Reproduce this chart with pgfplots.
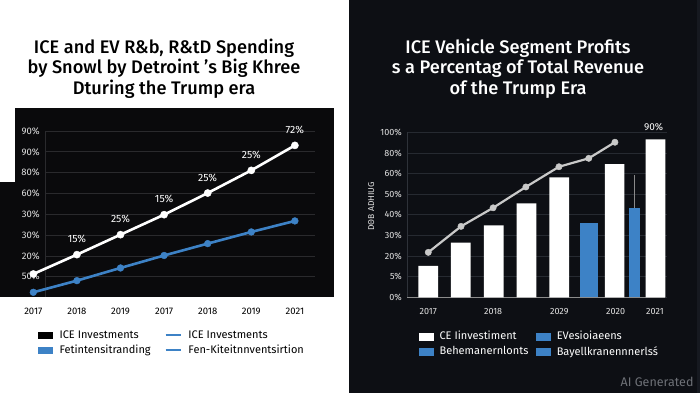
\documentclass[border=0pt]{standalone}
\usepackage{pgfplots}
\pgfplotsset{compat=1.18}
\usepackage{fontspec}
\setmainfont{Fira Sans}
\newfontfamily\titlefont{Fira Sans Medium}
\definecolor{panel}{HTML}{0D0F14}
\definecolor{lblack}{HTML}{0A0A0C}
\definecolor{gridl}{HTML}{2A2A2D}
\definecolor{gridr}{HTML}{262A31}
\definecolor{eblue}{HTML}{3D82C6}
\definecolor{lgray}{HTML}{C9C9C9}
\definecolor{tickw}{HTML}{E2E2E2}
\definecolor{edgec}{HTML}{161920}
\definecolor{aigray}{HTML}{6E7177}
\definecolor{vaxis}{HTML}{2E3239}
\definecolor{baxis}{HTML}{8C8C8C}
\definecolor{errc}{HTML}{8A8A8A}
\begin{document}
\begin{tikzpicture}
\useasboundingbox (0pt,0pt) rectangle (700pt,393pt);
\fill[white] (0pt,0pt) rectangle (700pt,393pt);
\fill[panel] (349pt,0pt) rectangle (700pt,393pt);
\fill[edgec] (697pt,0pt) rectangle (700pt,393pt);
\fill[lblack] (15pt,96pt) rectangle (334pt,285pt);
\fill[lblack] (0pt,96pt) rectangle (15pt,211pt);
\node[align=center, font=\titlefont\fontsize{18.2}{20.5}\selectfont, text=black] at (164pt,324.5pt)
  {ICE and EV R\&b, R\&tD Spending\\by Snowl by Detroint ’s Big Khree\\Dturing the Trump era};
\node[align=center, font=\titlefont\fontsize{18.2}{20.5}\selectfont, text=white] at (518pt,324.5pt)
  {ICE Vehicle Segment Profits\\s a Percentag of Total Revenue\\of the Trump Era};
\node[anchor=east, font=\fontsize{12.5}{14}\selectfont, text=aigray] at (697pt,11pt) {AI Generated};

% ---------------- left chart
\begin{axis}[
  at={(15pt,96pt)}, anchor=south west, scale only axis,
  width=319pt, height=189pt,
  xmin=-0.42, xmax=6.897, ymin=-0.976, ymax=8.107,
  axis line style={draw=none}, major tick length=0pt,
  clip=false,
  xtick={0,...,6}, xticklabels={2017,2018,2019,2017,2018,2019,2021},
  ytick={0,...,7}, yticklabels={50\%,20\%,30\%,30\%,60\%,80\%,90\%,90\%},
  xticklabel style={font=\fontsize{9.5}{11}\selectfont, text=black, inner sep=0pt, anchor=north, yshift=-11pt},
  yticklabel style={font=\fontsize{9.5}{11}\selectfont, text=tickw, inner sep=0pt, anchor=east, xshift=25pt},
  legend columns=2,
  legend style={at={(0.072,-0.166)}, anchor=north west, draw=none, fill=none,
    font=\fontsize{11}{13}\selectfont, text=black, inner sep=0pt,
    /tikz/every odd column/.append style={column sep=5pt},
    /tikz/every even column/.append style={column sep=12pt}, row sep=1pt},
  legend cell align=left,
]
\pgfplotsinvokeforeach{0,...,7}{\draw[gridl, line width=0.7pt] (axis cs:0.268,#1) -- (axis cs:6.46,#1);}
\draw[gridl, line width=0.7pt] (axis cs:0.268,-0.976) -- (axis cs:0.268,7);
\addplot[eblue, line width=2.6pt, mark=*, mark size=3.4pt, mark options={fill=eblue, draw=eblue, line width=0.4pt}, forget plot]
  coordinates {(0,-0.75) (1,-0.19) (2,0.42) (3,1.02) (4,1.59) (5,2.15) (6,2.68)};
\addplot[white, line width=2.6pt, mark=*, mark size=3.6pt, mark options={fill=white, draw=white, line width=0.4pt},
  nodes near coords, point meta=explicit symbolic,
  every node near coord/.style={font=\fontsize{10.5}{12}\selectfont, text=white, anchor=base, inner sep=0pt, yshift=12pt},
  forget plot]
  coordinates {(0,0.13)[{}] (1,1.06)[15\%] (2,2.02)[25\%] (3,2.98)[15\%] (4,4.02)[25\%] (5,5.11)[25\%] (6,6.31)[72\%]};
\addlegendimage{legend image code/.code={\fill[black] (0pt,-3pt) rectangle (14pt,3pt);}}
\addlegendentry{ICE Investments}
\addlegendimage{legend image code/.code={\draw[eblue, line width=1.8pt] (0pt,0pt) -- (15pt,0pt);}}
\addlegendentry{ICE Investments}
\addlegendimage{legend image code/.code={\fill[eblue] (0pt,-3pt) rectangle (14pt,3pt);}}
\addlegendentry{Fetintensitranding}
\addlegendimage{legend image code/.code={\draw[eblue, line width=1.8pt] (0pt,0pt) -- (15pt,0pt);}}
\addlegendentry{Fen-Kiteitnnventsirtion}
\end{axis}

% ---------------- right chart
\begin{axis}[
  at={(407pt,95.7pt)}, anchor=south west, scale only axis,
  width=260pt, height=189.3pt,
  xmin=-0.65, xmax=7.29, ymin=0, ymax=9.18,
  axis line style={draw=none}, major tick length=0pt,
  clip=false,
  ymajorgrids, grid style={gridr, line width=0.7pt},
  xtick={0,1.98,4.0,5.72,6.92}, xticklabels={2017,2018,2029,2020,2021},
  ytick={0,...,8}, yticklabels={0\%,5\%,20\%,30\%,40\%,50\%,60\%,80\%,100\%},
  xticklabel style={font=\fontsize{9}{11}\selectfont, text=tickw, inner sep=0pt, anchor=north, yshift=-11pt},
  yticklabel style={font=\fontsize{9}{11}\selectfont, text=tickw, inner sep=0pt, anchor=east, xshift=-5pt},
  ylabel={DΘB ADHIUG},
  every axis y label/.style={at={(rel axis cs:-0.138,0.48)}, rotate=90, anchor=center,
     font=\fontsize{8.5}{10}\selectfont, text=tickw},
  legend columns=2,
  legend style={at={(0.046,-0.168)}, anchor=north west, draw=none, fill=none,
    font=\fontsize{11}{13}\selectfont, text=white, inner sep=0pt,
    /tikz/every odd column/.append style={column sep=4pt},
    /tikz/every even column/.append style={column sep=6pt}, row sep=1pt},
  legend cell align=left,
]
\draw[vaxis, line width=0.7pt] (axis cs:-0.65,0) -- (axis cs:-0.65,8);
\draw[baxis, line width=0.9pt] (axis cs:-0.65,0) -- (axis cs:7.22,0);
\addplot[ybar, bar width=0.6, bar shift=0pt, fill=white, draw=none,
  nodes near coords, point meta=explicit symbolic,
  every node near coord/.style={font=\fontsize{10}{12}\selectfont, text=white, anchor=base, inner sep=0pt, yshift=8.5pt, xshift=-2pt},
  forget plot]
  coordinates {(0,1.52)[{}] (0.99,2.65)[{}] (2.0,3.49)[{}] (3.0,4.56)[{}] (4.0,5.82)[{}] (5.69,6.46)[{}] (6.94,7.66)[90\%]};
\addplot[ybar, bar width=0.56, bar shift=0pt, fill=eblue, draw=none, forget plot]
  coordinates {(4.91,3.60)};
\addplot[ybar, bar width=0.33, bar shift=0pt, fill=eblue, draw=none, forget plot,
  error bars/.cd, y dir=plus, y explicit, error mark=none,
  error bar style={errc, line width=1.2pt}]
  coordinates {(6.30,4.35) +- (0,1.58)};
\addplot[lgray, line width=2.2pt, mark=*, mark size=3.2pt, mark options={fill=lgray, draw=lgray, line width=0.4pt}, forget plot]
  coordinates {(0,2.18) (1.0,3.44) (1.98,4.34) (2.98,5.35) (3.99,6.33) (4.90,6.74) (5.70,7.52)};
\addlegendimage{legend image code/.code={\fill[white] (0pt,-3.5pt) rectangle (14pt,3.5pt);}}
\addlegendentry{CE Iinvestiment}
\addlegendimage{legend image code/.code={\fill[eblue] (0pt,-3.5pt) rectangle (14pt,3.5pt);}}
\addlegendentry{EVesioiaeens}
\addlegendimage{legend image code/.code={\fill[eblue] (0pt,-3.5pt) rectangle (14pt,3.5pt);}}
\addlegendentry{Behemanernlonts}
\addlegendimage{legend image code/.code={\fill[eblue] (0pt,-3.5pt) rectangle (14pt,3.5pt);}}
\addlegendentry{Bayellkranennnerlsś}
\end{axis}
\end{tikzpicture}
\end{document}
